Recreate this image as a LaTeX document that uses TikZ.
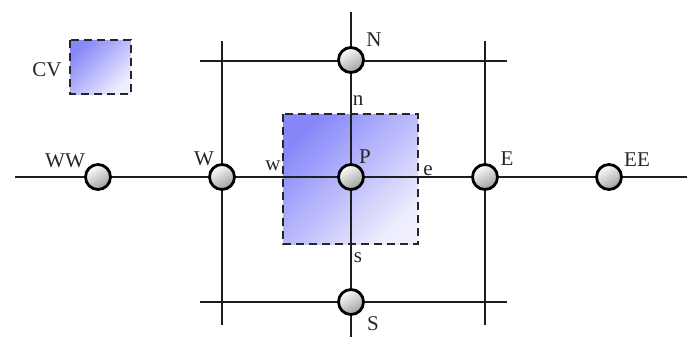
\documentclass[tikz,border=0pt]{standalone}
\usepackage{fontspec}
\setmainfont{Liberation Serif}
\definecolor{cvdark}{RGB}{135,135,250}
\definecolor{cvlight}{RGB}{238,238,253}
\definecolor{linec}{RGB}{30,30,30}
\begin{document}
\begin{tikzpicture}[x=1pt,y=-1pt,
  grid/.style={draw=linec,line width=2pt},
  gp/.style={circle,minimum size=25pt,inner sep=0pt,draw=black,line width=2.8pt,
    top color=white,bottom color=black!38,shading angle=30},
  cvbox/.style={draw=black!85,line width=2.5pt,dash pattern=on 8pt off 5pt,
    top color=cvdark,bottom color=cvlight,shading angle=45},
  lbl/.style={font=\fontsize{21}{21}\selectfont,text=black!85,inner sep=0pt}]
\useasboundingbox (0,0) rectangle (694,341);
% control volumes
\path[cvbox] (70,40) rectangle (131,94);
\path[cvbox] (283,114) rectangle (418,244);
% free ends
\coordinate (L) at (15,177);
\coordinate (R) at (687,177);
\coordinate (Wt) at (222,41);
\coordinate (Wb) at (222,325);
\coordinate (Pt) at (351,12);
\coordinate (Pb) at (351,337);
\coordinate (Et) at (485,41);
\coordinate (Eb) at (485,325);
\coordinate (Nl) at (200,61);
\coordinate (Nr) at (507,61);
\coordinate (Sl) at (200,302);
\coordinate (Sr) at (507,302);
% grid lines
\draw[grid] (L) -- (R);
\draw[grid] (Wt) -- (Wb);
\draw[grid] (Pt) -- (Pb);
\draw[grid] (Et) -- (Eb);
\draw[grid] (Nl) -- (Nr);
\draw[grid] (Sl) -- (Sr);
% grid points
\node[gp] (WW) at (98,177) {};
\node[gp] (W) at (222,177) {};
\node[gp] (P) at (351,177) {};
\node[gp] (E) at (485,177) {};
\node[gp] (EE) at (609,177) {};
\node[gp] (N) at (351,60) {};
\node[gp] (S) at (351,302) {};
% labels
\node[lbl] (tCV) at (47,70) {CV};
\node[lbl] (tWW) at (65,161) {WW};
\node[lbl] (tW) at (204,159) {W};
\node[lbl] (tw) at (273,166) {w};
\node[lbl] (tP) at (365,157) {P};
\node[lbl] (te) at (428,171) {e};
\node[lbl] (tE) at (507,159) {E};
\node[lbl] (tEE) at (637,160) {EE};
\node[lbl] (tN) at (374,40) {N};
\node[lbl] (tn) at (358,101) {n};
\node[lbl] (ts) at (358,258) {s};
\node[lbl] (tS) at (373,324) {S};
\end{tikzpicture}
\end{document}
